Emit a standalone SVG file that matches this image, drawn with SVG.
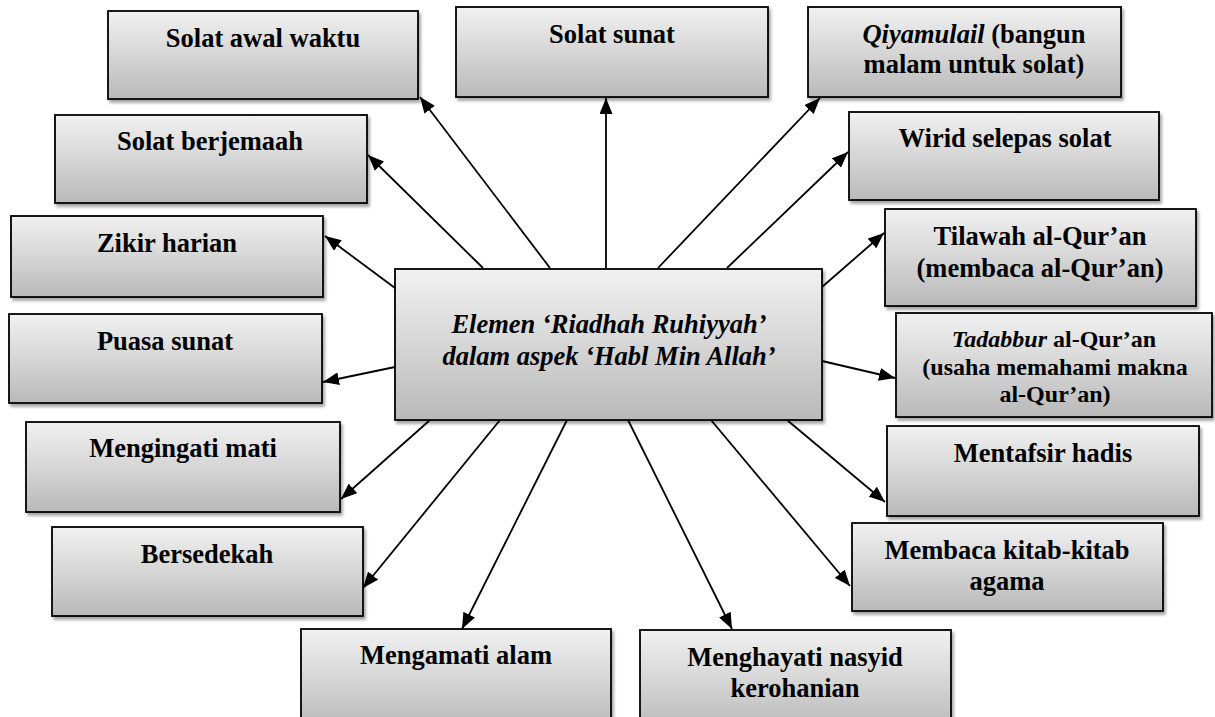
<svg xmlns="http://www.w3.org/2000/svg" width="1215" height="717" viewBox="0 0 1215 717">
<defs>
<linearGradient id="g" x1="0" y1="0" x2="0" y2="1">
<stop offset="0" stop-color="#f1f1f1"/>
<stop offset="0.5" stop-color="#d6d6d6"/>
<stop offset="1" stop-color="#b9b9b9"/>
</linearGradient>
<filter id="sh" x="-5%" y="-5%" width="115%" height="125%">
<feDropShadow dx="2" dy="3" stdDeviation="1.5" flood-color="#000" flood-opacity="0.35"/>
</filter>
<marker id="ah" markerUnits="userSpaceOnUse" markerWidth="16" markerHeight="13" refX="16" refY="6.5" orient="auto">
<path d="M0,0 L16,6.5 L0,13 z" fill="#000"/>
</marker>
<style>
.box{fill:url(#g);stroke:#000;stroke-width:1.8;filter:url(#sh)}
.t{font-family:"Liberation Serif","Times New Roman",serif;font-weight:bold;font-size:26.5px;fill:#000;text-anchor:middle}
.s{font-size:24px}
.i{font-style:italic}
.c line{stroke:#000;stroke-width:1.8;marker-end:url(#ah)}
</style>
</defs>
<rect width="1215" height="717" fill="#fff"/>
<g id="center">
<rect class="box" x="395" y="269" width="427" height="151"/>
<text class="t i" x="609" y="333">Elemen ‘Riadhah Ruhiyyah’</text>
<text class="t i" x="609" y="365">dalam aspek ‘Habl Min Allah’</text>
</g>
<g id="n-solat-awal-waktu">
<rect class="box" x="108" y="11" width="310" height="88"/>
<text class="t" x="263" y="47">Solat awal waktu</text>
</g>
<g id="n-solat-sunat">
<rect class="box" x="456" y="7" width="312" height="90"/>
<text class="t" x="612" y="43">Solat sunat</text>
</g>
<g id="n-qiyamulail">
<rect class="box" x="808" y="7" width="313" height="90"/>
<text class="t" x="974" y="43"><tspan class="i">Qiyamulail</tspan> (bangun</text>
<text class="t" x="974" y="73">malam untuk solat)</text>
</g>
<g id="n-solat-berjemaah">
<rect class="box" x="55" y="115" width="312" height="88"/>
<text class="t" x="210" y="150">Solat berjemaah</text>
</g>
<g id="n-wirid">
<rect class="box" x="849" y="112" width="310" height="88"/>
<text class="t" x="1005" y="147">Wirid selepas solat</text>
</g>
<g id="n-zikir">
<rect class="box" x="11" y="216" width="312" height="81"/>
<text class="t" x="167" y="252">Zikir harian</text>
</g>
<g id="n-tilawah">
<rect class="box" x="885" y="209" width="311" height="97"/>
<text class="t" x="1040" y="245">Tilawah al-Qur’an</text>
<text class="t" x="1040" y="277">(membaca al-Qur’an)</text>
</g>
<g id="n-puasa">
<rect class="box" x="9" y="314" width="313" height="89"/>
<text class="t" x="165" y="350">Puasa sunat</text>
</g>
<g id="n-tadabbur">
<rect class="box" x="896" y="313" width="316" height="104"/>
<text class="t s" x="1054" y="347"><tspan class="i">Tadabbur</tspan> al-Qur’an</text>
<text class="t s" x="1055" y="375">(usaha memahami makna</text>
<text class="t s" x="1055" y="402">al-Qur’an)</text>
</g>
<g id="n-mengingati">
<rect class="box" x="26" y="422" width="314" height="90"/>
<text class="t" x="183" y="457">Mengingati mati</text>
</g>
<g id="n-mentafsir">
<rect class="box" x="887" y="426" width="312" height="90"/>
<text class="t" x="1043" y="462">Mentafsir hadis</text>
</g>
<g id="n-bersedekah">
<rect class="box" x="52" y="527" width="311" height="89"/>
<text class="t" x="207" y="563">Bersedekah</text>
</g>
<g id="n-membaca">
<rect class="box" x="852" y="523" width="311" height="88"/>
<text class="t" x="1007" y="559">Membaca kitab-kitab</text>
<text class="t" x="1007" y="590">agama</text>
</g>
<g id="n-mengamati">
<rect class="box" x="301" y="629" width="310" height="100"/>
<text class="t" x="456" y="664">Mengamati alam</text>
</g>
<g id="n-menghayati">
<rect class="box" x="640" y="630" width="311" height="100"/>
<text class="t" x="795" y="666">Menghayati nasyid</text>
<text class="t" x="795" y="697">kerohanian</text>
</g>
<g id="connectors" class="c">
<line x1="550" y1="268" x2="420" y2="97"/>
<line x1="483" y1="268" x2="368" y2="155"/>
<line x1="606" y1="268" x2="606" y2="98"/>
<line x1="658" y1="268" x2="820" y2="98"/>
<line x1="727" y1="268" x2="848" y2="152"/>
<line x1="822" y1="287" x2="884" y2="233"/>
<line x1="822" y1="361" x2="895" y2="378"/>
<line x1="787" y1="420" x2="885" y2="502"/>
<line x1="711" y1="420" x2="850" y2="586"/>
<line x1="628" y1="420" x2="732" y2="629"/>
<line x1="567" y1="420" x2="462" y2="629"/>
<line x1="500" y1="420" x2="363" y2="588"/>
<line x1="430" y1="420" x2="341" y2="499"/>
<line x1="395" y1="367" x2="323" y2="382"/>
<line x1="395" y1="288" x2="325" y2="236"/>
</g>
</svg>
